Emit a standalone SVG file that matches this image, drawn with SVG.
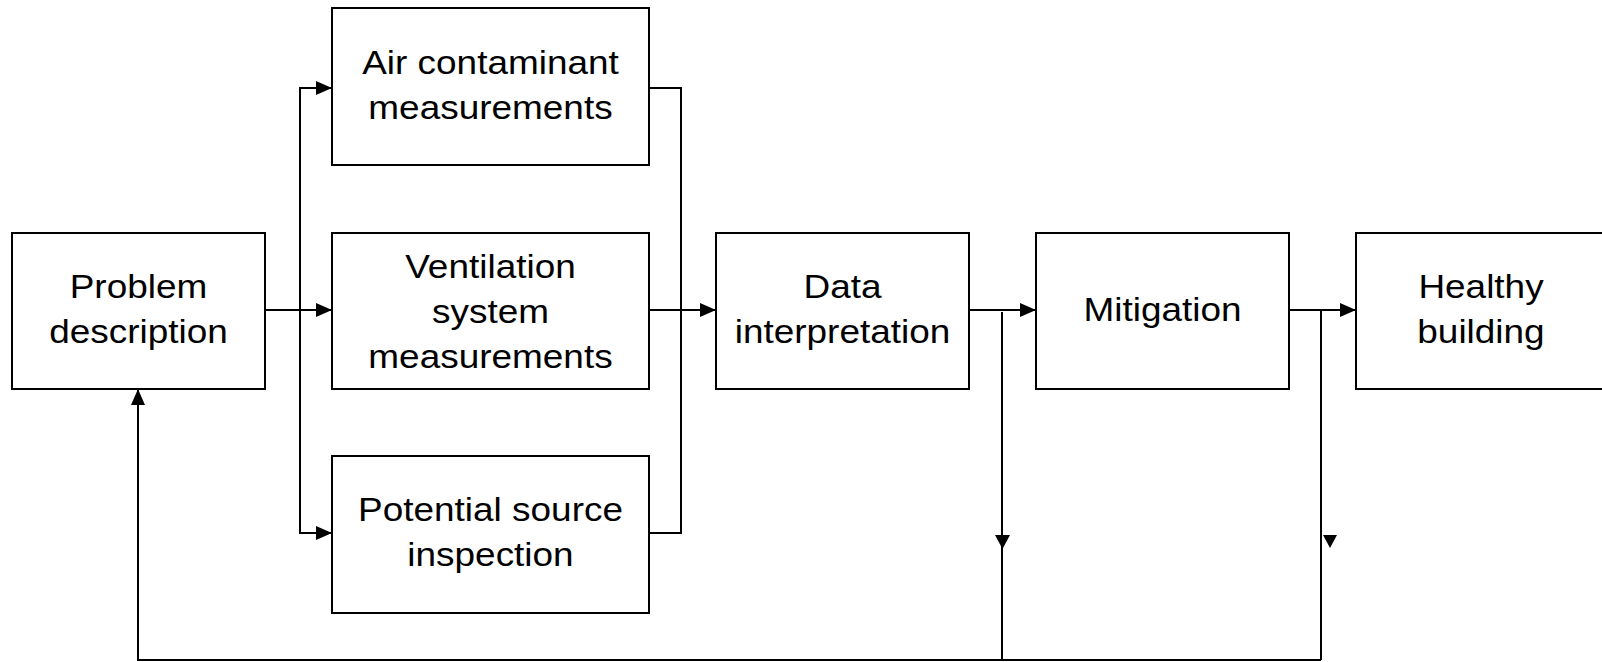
<svg xmlns="http://www.w3.org/2000/svg" width="1602" height="662" viewBox="0 0 1602 662">
<style>
.box{fill:#fff;stroke:#000;stroke-width:2}
.ln{fill:none;stroke:#000;stroke-width:2}
.ah{fill:#000;stroke:none}
text{font-family:"Liberation Sans",Arial,Helvetica,sans-serif;font-size:33px;fill:#000;text-anchor:middle}
</style>
<defs>
<marker id="arr" markerUnits="userSpaceOnUse" markerWidth="16" markerHeight="14" refX="16" refY="7" orient="auto">
<path d="M0,0 L16,7 L0,14 Z" fill="#000"/>
</marker>
</defs>
<rect width="1602" height="662" fill="#fff"/>
<g id="connectors">
<polyline class="ln" points="265,310 300,310 332,310" marker-end="url(#arr)"/>
<polyline class="ln" points="300,533 300,88 332,88" marker-end="url(#arr)"/>
<polyline class="ln" points="300,310 300,533 332,533" marker-end="url(#arr)"/>
<polyline class="ln" points="649,88 681,88 681,533 649,533"/>
<line class="ln" x1="649" y1="310" x2="716" y2="310" marker-end="url(#arr)"/>
<line class="ln" x1="969" y1="310" x2="1036" y2="310" marker-end="url(#arr)"/>
<line class="ln" x1="1289" y1="310" x2="1356" y2="310" marker-end="url(#arr)"/>
<line class="ln" x1="1002" y1="312" x2="1002" y2="660"/>
<polygon class="ah" points="995,535 1010,535 1002.5,549"/>
<line class="ln" x1="1321" y1="310" x2="1321" y2="660"/>
<polygon class="ah" points="1323,535 1337,535 1330,548"/>
<polyline class="ln" points="1321,660 138,660 138,389" marker-end="url(#arr)"/>
</g>
<g id="problem">
<rect class="box" x="12" y="233" width="253" height="156"/>
<g transform="translate(138.5,0) scale(1.12,1)"><text x="0" y="298">Problem</text><text x="0" y="343">description</text></g>
</g>
<g id="air">
<rect class="box" x="332" y="8" width="317" height="157"/>
<g transform="translate(490.5,0) scale(1.12,1)"><text x="0" y="74">Air contaminant</text><text x="0" y="119">measurements</text></g>
</g>
<g id="ventilation">
<rect class="box" x="332" y="233" width="317" height="156"/>
<g transform="translate(490.5,0) scale(1.12,1)"><text x="0" y="278">Ventilation</text><text x="0" y="323">system</text><text x="0" y="368">measurements</text></g>
</g>
<g id="potential">
<rect class="box" x="332" y="456" width="317" height="157"/>
<g transform="translate(490.5,0) scale(1.12,1)"><text x="0" y="521">Potential source</text><text x="0" y="566">inspection</text></g>
</g>
<g id="data">
<rect class="box" x="716" y="233" width="253" height="156"/>
<g transform="translate(842.5,0) scale(1.12,1)"><text x="0" y="298">Data</text><text x="0" y="343">interpretation</text></g>
</g>
<g id="mitigation">
<rect class="box" x="1036" y="233" width="253" height="156"/>
<g transform="translate(1162.5,0) scale(1.12,1)"><text x="0" y="321">Mitigation</text></g>
</g>
<g id="healthy">
<rect class="box" x="1356" y="233" width="253" height="156"/>
<g transform="translate(1481,0) scale(1.12,1)"><text x="0" y="298">Healthy</text><text x="0" y="343">building</text></g>
</g>
</svg>
